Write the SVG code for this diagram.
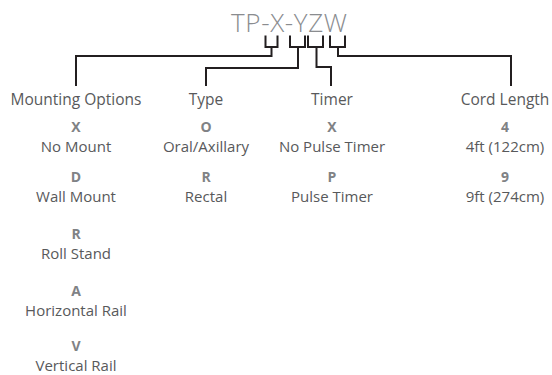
<svg xmlns="http://www.w3.org/2000/svg" width="552" height="375" viewBox="0 0 552 375">
<style>
.title{font-family:"Open Sans","Noto Sans","Liberation Sans",sans-serif;font-size:26px;fill:#8a8c8f;font-weight:300}
.hd{font-family:"Open Sans","Noto Sans","Liberation Sans",sans-serif;font-size:15.5px;fill:#58595b;text-anchor:middle}
.code{font-family:"Open Sans","Noto Sans","Liberation Sans",sans-serif;font-size:14px;font-weight:bold;fill:#808285;text-anchor:middle}
.desc{font-family:"Open Sans","Noto Sans","Liberation Sans",sans-serif;font-size:15px;fill:#58595b;text-anchor:middle}
.ln{fill:none;stroke:#231f20;stroke-width:2}
</style>
<rect width="552" height="375" fill="#ffffff"/>
<g id="title"><text class="title" x="231" y="32" textLength="116" lengthAdjust="spacing">TP-X-YZW</text></g>
<g id="connectors">
<path class="ln" d="M265.5 35.5 V47 H277.5 V35.5"/>
<path class="ln" d="M290 35.5 V47 H305 V35.5"/>
<path class="ln" d="M308 35.5 V47 H323 V35.5"/>
<path class="ln" d="M330 35.5 V47 H345 V35.5"/>
<path class="ln" d="M271.5 47 V56 H76 V86"/>
<path class="ln" d="M298 47 V68 H206 V86"/>
<path class="ln" d="M316.5 47 V67 H331 V86"/>
<path class="ln" d="M338 47 V56 H511 V86"/>
</g>
<g id="mounting">
<text class="hd" x="76" y="105">Mounting Options</text>
<text class="code" x="76" y="132">X</text>
<text class="desc" x="76" y="152">No Mount</text>
<text class="code" x="76" y="182">D</text>
<text class="desc" x="76" y="202">Wall Mount</text>
<text class="code" x="76" y="239">R</text>
<text class="desc" x="76" y="259">Roll Stand</text>
<text class="code" x="76" y="296">A</text>
<text class="desc" x="76" y="316">Horizontal Rail</text>
<text class="code" x="76" y="351">V</text>
<text class="desc" x="76" y="371">Vertical Rail</text>
</g>
<g id="type">
<text class="hd" x="206" y="105">Type</text>
<text class="code" x="206" y="132">O</text>
<text class="desc" x="206" y="152">Oral/Axillary</text>
<text class="code" x="206" y="182">R</text>
<text class="desc" x="206" y="202">Rectal</text>
</g>
<g id="timer">
<text class="hd" x="332" y="105">Timer</text>
<text class="code" x="332" y="132">X</text>
<text class="desc" x="332" y="152">No Pulse Timer</text>
<text class="code" x="332" y="182">P</text>
<text class="desc" x="332" y="202">Pulse Timer</text>
</g>
<g id="cord">
<text class="hd" x="505" y="105">Cord Length</text>
<text class="code" x="505" y="132">4</text>
<text class="desc" x="505" y="152">4ft (122cm)</text>
<text class="code" x="505" y="182">9</text>
<text class="desc" x="505" y="202">9ft (274cm)</text>
</g>
</svg>
